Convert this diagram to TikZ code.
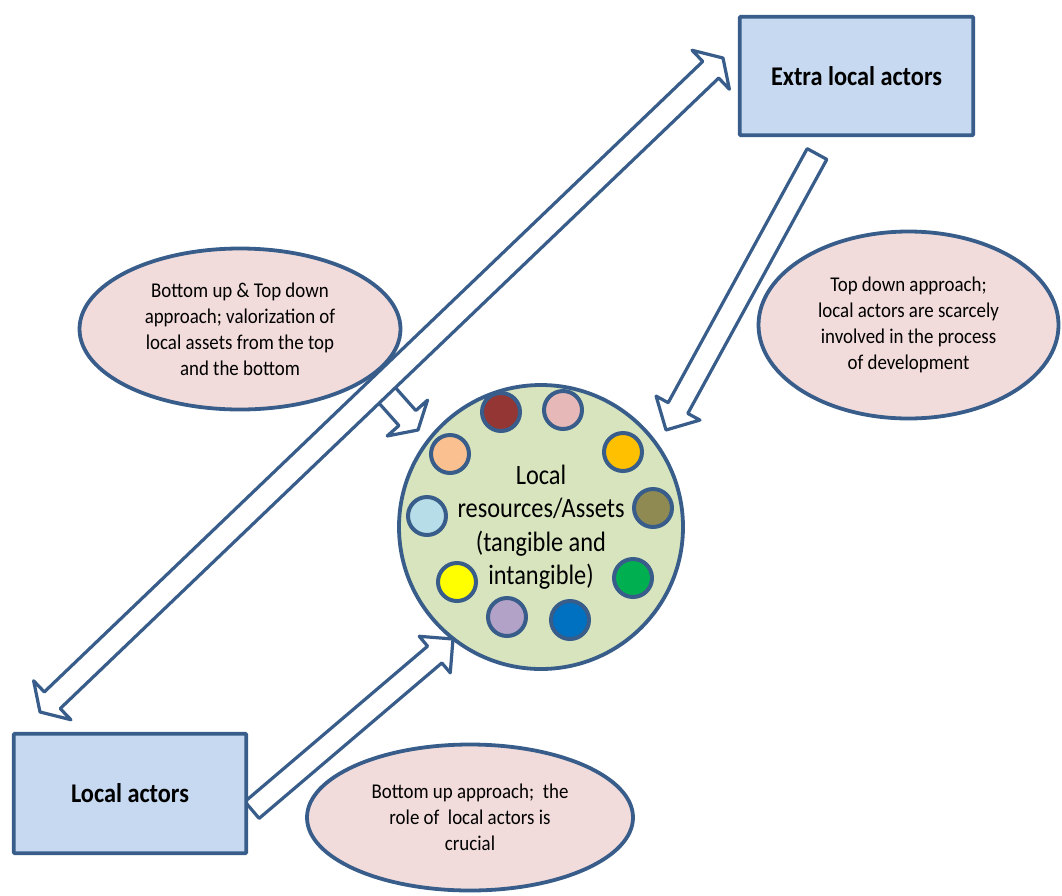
\documentclass[tikz,border=0pt]{standalone}
\usepackage{fontspec}
\setmainfont{Carlito}
\newfontfamily\boxfont[FakeStretch=0.9]{Carlito}
\newfontfamily\circfont[FakeStretch=0.87]{Carlito}
\newfontfamily\ellfont[FakeStretch=0.9]{Carlito}
\usetikzlibrary{calc,shapes.geometric}
\definecolor{edgeblue}{HTML}{385D8A}
\definecolor{boxfill}{HTML}{C6D9F1}
\definecolor{ellfill}{HTML}{F2DCDB}
\definecolor{circfill}{HTML}{D7E4BD}
\definecolor{dotA}{HTML}{943634}
\definecolor{dotB}{HTML}{E6B9B8}
\definecolor{dotC}{HTML}{FFC000}
\definecolor{dotD}{HTML}{8F8A52}
\definecolor{dotE}{HTML}{00B050}
\definecolor{dotF}{HTML}{0070C0}
\definecolor{dotG}{HTML}{B3A2C7}
\definecolor{dotH}{HTML}{FFFF00}
\definecolor{dotI}{HTML}{B7DDE8}
\definecolor{dotJ}{HTML}{FAC090}
\newcommand\blockarrow[5]{%
  \coordinate (hb) at ($(#2)!#5!(#1)$);
  \draw[arrowbody] ($(#1)!#3!90:(#2)$) -- ($(hb)!#3!90:(#2)$) -- ($(hb)!#4!90:(#2)$) -- (#2)
    -- ($(hb)!#4!-90:(#2)$) -- ($(hb)!#3!-90:(#2)$) -- ($(#1)!#3!-90:(#2)$) -- cycle;}
\newcommand\dblblockarrow[5]{%
  \coordinate (ha) at ($(#1)!#5!(#2)$);
  \coordinate (hz) at ($(#2)!#5!(#1)$);
  \draw[arrowbody] (#1) -- ($(ha)!#4!90:(#2)$) -- ($(ha)!#3!90:(#2)$) -- ($(hz)!#3!90:(#2)$)
    -- ($(hz)!#4!90:(#2)$) -- (#2) -- ($(hz)!#4!-90:(#2)$) -- ($(hz)!#3!-90:(#2)$)
    -- ($(ha)!#3!-90:(#2)$) -- ($(ha)!#4!-90:(#2)$) -- cycle;}
\begin{document}
\begin{tikzpicture}[x=1pt,y=-1pt,
  arrowbody/.style={draw=edgeblue, fill=white, line width=3.2pt, line join=round},
  actorbox/.style={draw=edgeblue, line width=3.6pt, fill=boxfill, rounded corners=1pt,
    inner sep=0pt, font=\boxfont\bfseries\fontsize{27}{32}\selectfont},
  bubble/.style={ellipse, draw=edgeblue, line width=3.8pt, fill=ellfill, inner sep=0pt,
    align=center, font=\ellfont\fontsize{21}{26}\selectfont},
  resource/.style={circle, draw=edgeblue, line width=3.8pt, fill=circfill, inner sep=0pt,
    minimum size=284pt, align=center, font=\circfont\fontsize{28}{33.5}\selectfont},
  asset/.style={circle, draw=edgeblue, line width=4pt, inner sep=0pt, minimum size=38pt}]
\useasboundingbox (0,0) rectangle (1062,895);
% arrow end points
\coordinate (dA) at (40,712);
\coordinate (dB) at (723,58);
\coordinate (bT) at (378,385);
\coordinate (bH) at (418,430);
\coordinate (eT) at (817,154);
\coordinate (eH) at (666,430);
\coordinate (lT) at (252,810);
\coordinate (lH) at (453,639);
% arrows
\blockarrow{bT}{bH}{11.3pt}{27pt}{16pt}
\dblblockarrow{dA}{dB}{11.5pt}{27pt}{17pt}
\blockarrow{eT}{eH}{11.2pt}{25pt}{25pt}
\blockarrow{lT}{lH}{11pt}{24pt}{24pt}
% ellipses
\node[bubble, minimum width=321pt, minimum height=161pt] (both) at (240,329)
  {Bottom up \& Top down\\approach; valorization of\\local assets from the top\\and the bottom};
\node[bubble, minimum width=300pt, minimum height=187pt] (topdown) at (908.5,325)
  {Top down approach;\\local actors are scarcely\\involved in the process\\of development};
\node[bubble, minimum width=326pt, minimum height=146pt] (bottomup) at (470,817.5)
  {Bottom up approach;~ the\\role of~ local actors is\\crucial};
% resources circle
\node[resource] (res) at (541,527) {Local\\resources/Assets\\(tangible and\\intangible)};
\node[asset, fill=dotA] (a1) at (501,412) {};
\node[asset, fill=dotB] (a2) at (563,410) {};
\node[asset, fill=dotC] (a3) at (623,452) {};
\node[asset, fill=dotD] (a4) at (653,508) {};
\node[asset, fill=dotE] (a5) at (633,578) {};
\node[asset, fill=dotF] (a6) at (570,620) {};
\node[asset, fill=dotG] (a7) at (507,617) {};
\node[asset, fill=dotH] (a8) at (457,582) {};
\node[asset, fill=dotI] (a9) at (427,516) {};
\node[asset, fill=dotJ] (a10) at (450,454) {};
% boxes
\node[actorbox, minimum width=233.5pt, minimum height=118.5pt] (extra) at (856.5,76) {Extra local actors};
\node[actorbox, minimum width=232.5pt, minimum height=119.5pt] (local) at (130,793.5) {Local actors};
\end{tikzpicture}
\end{document}
